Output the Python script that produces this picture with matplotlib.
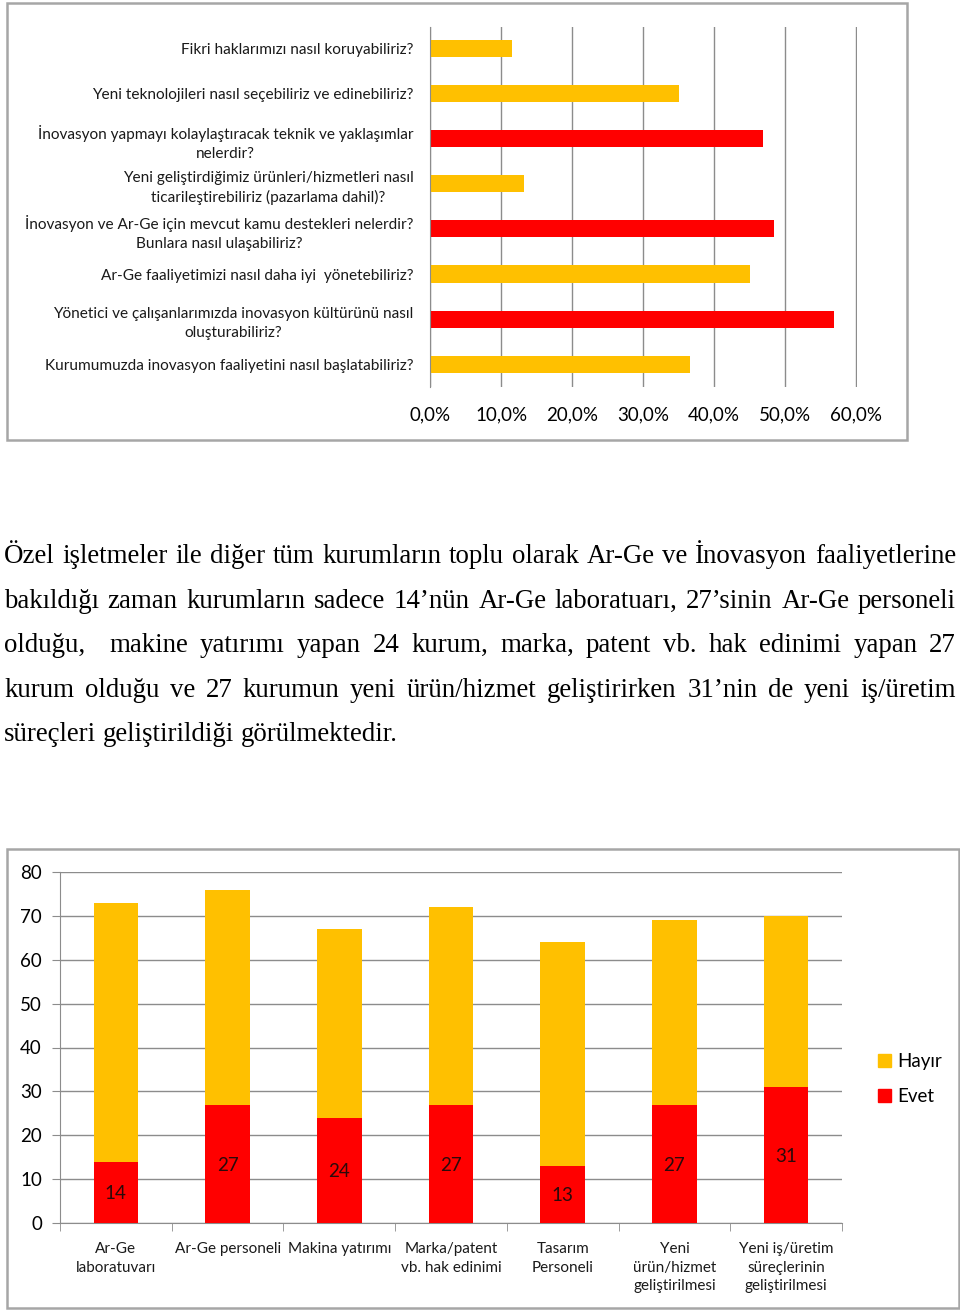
import matplotlib
matplotlib.use("Agg")
import matplotlib.pyplot as plt
from matplotlib.patches import Rectangle, Patch

# Data
questions = [
    "Fikri haklarımızı nasıl koruyabiliriz?",
    "Yeni teknolojileri nasıl seçebiliriz ve edinebiliriz?",
    "İnovasyon yapmayı kolaylaştıracak teknik ve yaklaşımlar\nnelerdir?",
    "Yeni geliştirdiğimiz ürünleri/hizmetleri nasıl\nticarileştirebiliriz (pazarlama dahil)?",
    "İnovasyon ve Ar-Ge için mevcut kamu destekleri nelerdir?\nBunlara nasıl ulaşabiliriz?",
    "Ar-Ge faaliyetimizi nasıl daha iyi  yönetebiliriz?",
    "Yönetici ve çalışanlarımızda inovasyon kültürünü nasıl\noluşturabiliriz?",
    "Kurumumuzda inovasyon faaliyetini nasıl başlatabiliriz?",
]
question_share = [11.6, 35.0, 46.8, 13.2, 48.4, 45.0, 56.8, 36.6]
pct_ticks = [0, 10, 20, 30, 40, 50, 60]

categories = [
    "Ar-Ge\nlaboratuvarı",
    "Ar-Ge personeli",
    "Makina yatırımı",
    "Marka/patent\nvb. hak edinimi",
    "Tasarım\nPersoneli",
    "Yeni\nürün/hizmet\ngeliştirilmesi",
    "Yeni iş/üretim\nsüreçlerinin\ngeliştirilmesi",
]
evet = [14, 27, 24, 27, 13, 27, 31]
hayir = [59, 49, 43, 45, 51, 42, 39]
count_ticks = [0, 10, 20, 30, 40, 50, 60, 70, 80]

paragraph = [
    "Özel işletmeler ile diğer tüm kurumların toplu olarak Ar-Ge ve İnovasyon faaliyetlerine",
    "bakıldığı zaman kurumların sadece 14’nün Ar-Ge laboratuarı, 27’sinin Ar-Ge personeli",
    "olduğu,  makine yatırımı yapan 24 kurum, marka, patent vb. hak edinimi yapan 27",
    "kurum olduğu ve 27 kurumun yeni ürün/hizmet geliştirirken 31’nin de yeni iş/üretim",
    "süreçleri geliştirildiği görülmektedir.",
]

YELLOW = "#FFC000"
RED = "#FF0000"
GRID = "#8C8C8C"
bar_colors = [YELLOW, YELLOW, RED, YELLOW, RED, YELLOW, RED, YELLOW]

W, H = 960, 1311
plt.rcParams["font.family"] = ["Lato", "DejaVu Sans"]
fig = plt.figure(figsize=(W / 100, H / 100), dpi=100)


def px_box(x0, y0, x1, y1):
    # pixel box (top-left origin) -> figure fraction rect
    return [x0 / W, 1 - y1 / H, (x1 - x0) / W, (y1 - y0) / H]


# frames
for (x0, y0, x1, y1) in [(7, 3, 907, 440), (7, 849, 959, 1308)]:
    r = px_box(x0, y0, x1, y1)
    fig.patches.append(Rectangle((r[0], r[1]), r[2], r[3], transform=fig.transFigure,
                                 fill=False, edgecolor="#A6A6A6", lw=1.8))

# Top horizontal bar chart
ax1 = fig.add_axes(px_box(430, 27, 857, 387))
ypos = list(range(len(questions)))
ax1.barh(ypos, question_share, height=0.38, color=bar_colors)
ax1.set_ylim(7.5, -0.47)
ax1.set_xlim(0, 60.1)
ax1.set_xticks(pct_ticks)
ax1.set_xticklabels([f"{t:.1f}%".replace(".", ",") for t in pct_ticks], fontsize=13.5)
ax1.set_yticks(ypos)
ax1.set_yticklabels(questions, fontsize=11.1, color="#1a1a1a", linespacing=1.45)
for lab in ax1.get_yticklabels():
    lab.set_multialignment("center")
ax1.tick_params(axis="both", length=0)
ax1.tick_params(axis="x", pad=14)
ax1.tick_params(axis="y", pad=12)
ax1.grid(axis="x", color=GRID, lw=1)
ax1.set_axisbelow(True)
for s in ["top", "right", "bottom"]:
    ax1.spines[s].set_visible(False)
ax1.spines["left"].set_color(GRID)

# Bottom stacked bar chart
ax2 = fig.add_axes(px_box(60, 872, 842, 1223))
xpos = list(range(len(categories)))
ax2.bar(xpos, evet, width=0.4, color=RED, label="Evet", zorder=3)
ax2.bar(xpos, hayir, width=0.4, bottom=evet, color=YELLOW, label="Hayır", zorder=3)
for x, v in zip(xpos, evet):
    ax2.text(x, v / 2 - 0.3, str(v), ha="center", va="center", fontsize=13.5,
             color="#2a0a0a", zorder=4)
ax2.set_xlim(-0.5, 6.5)
ax2.set_ylim(0, 80)
ax2.set_yticks(count_ticks)
ax2.set_yticklabels([str(t) for t in count_ticks], fontsize=13.5)
ax2.set_xticks(xpos)
ax2.set_xticklabels(categories, fontsize=11, linespacing=1.4, color="#1a1a1a")
ax2.set_xticks([i - 0.5 for i in range(len(categories) + 1)], minor=True)
ax2.tick_params(axis="x", which="major", length=0, pad=14)
ax2.tick_params(axis="x", which="minor", length=6, color=GRID, direction="out")
ax2.tick_params(axis="y", length=6, color=GRID, pad=7)
ax2.grid(axis="y", color=GRID, lw=1, zorder=0)
ax2.set_axisbelow(True)
for s in ["top", "right"]:
    ax2.spines[s].set_visible(False)
for s in ["left", "bottom"]:
    ax2.spines[s].set_color(GRID)

fig.legend(handles=[Patch(color=YELLOW, label="Hayır"), Patch(color=RED, label="Evet")],
           loc="center left", bbox_to_anchor=(861 / W, 1 - 1079 / H), frameon=False,
           fontsize=13.5, handlelength=0.7, handleheight=0.7, handletextpad=0.35,
           labelspacing=1.0)

# Justified paragraph
fig.canvas.draw()
rend = fig.canvas.get_renderer()
para_family = ["Liberation Serif", "DejaVu Serif"]
left, right = 4, 956


def text_width(s, size):
    if not s:
        return 0.0
    t = fig.text(0, 0, s, fontsize=size, family=para_family)
    wd = t.get_window_extent(rend).width
    t.remove()
    return wd


# pick the size at which the first line fills the column with normal spacing
para_size = 10 * (right - left - 6) / text_width(paragraph[0], 10)
space_w = text_width("a a", para_size) - text_width("aa", para_size)
baselines = [563, 608, 652, 697, 741]
for i, (line, yb) in enumerate(zip(paragraph, baselines)):
    words = line.split(" ")
    widths = [text_width(w, para_size) for w in words]
    if i < len(paragraph) - 1:
        gap = (right - left - sum(widths)) / (len(words) - 1)
    else:
        gap = space_w
    x = left
    for w, wd in zip(words, widths):
        if w:
            fig.text(x / W, 1 - yb / H, w, ha="left", va="baseline",
                     fontsize=para_size, family=para_family, color="black")
        x += wd + gap

fig.savefig("out.png", dpi=100)
